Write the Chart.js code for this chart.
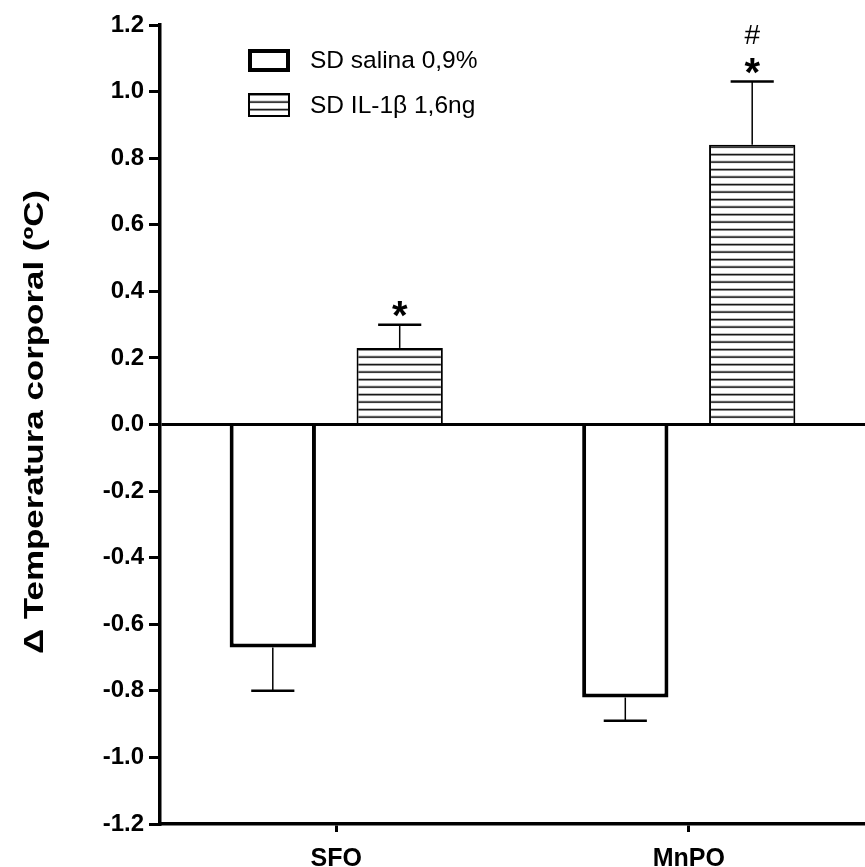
<!DOCTYPE html>
<html>
<head>
<meta charset="utf-8">
<script src="https://cdn.jsdelivr.net/npm/chart.js@4/dist/chart.umd.min.js"></script>
<style>
  html, body { margin: 0; padding: 0; background: #fff; overflow: hidden; }
</style>
</head>
<body>
<canvas id="barChart" width="865" height="867"></canvas>
<script>
const categories = ['SFO', 'MnPO'];
const seriesNames = ['SD salina 0,9%', 'SD IL-1\u03b2 1,6ng'];
const salinaValues = [-0.67, -0.82];
const salinaErrors = [0.13, 0.07];
const ilValues = [0.23, 0.84];
const ilErrors = [0.07, 0.19];
const ilMarks = ['*', '*'];
const ilMarksTop = ['', '#'];
const yTickValues = [-1.2, -1.0, -0.8, -0.6, -0.4, -0.2, 0.0, 0.2, 0.4, 0.6, 0.8, 1.0, 1.2];
const yTitle = '\u0394 Temperatura corporal (\u00baC)';

const FONT = '"Liberation Sans", Arial, Helvetica, sans-serif';

const ctx = document.getElementById('barChart').getContext('2d');

// horizontal stripes for the IL-1b bars
function makeStripes() {
    const c = document.createElement('canvas');
    c.width = 8;
    c.height = 15;
    const g = c.getContext('2d');
    g.fillStyle = '#fff';
    g.fillRect(0, 0, 8, 15);
    g.fillStyle = '#000';
    g.fillRect(0, 0, 8, 1.6);
    g.fillRect(0, 7.5, 8, 1.6);
    return ctx.createPattern(c, 'repeat');
}
const stripes = makeStripes();

const errors = [salinaErrors, ilErrors];

const stripeAlign = {
    id: 'stripeAlign',
    beforeDatasetsDraw(chart) {
        const zero = chart.scales.y.getPixelForValue(0);
        stripes.setTransform(new DOMMatrix().translate(0, zero - 0.8));
    }
};

const errorBars = {
    id: 'errorBars',
    afterDatasetsDraw(chart) {
        const c = chart.ctx;
        const y = chart.scales.y;
        c.save();
        c.strokeStyle = '#000';
        chart.data.datasets.forEach((ds, i) => {
            const meta = chart.getDatasetMeta(i);
            meta.data.forEach((bar, j) => {
                const v = ds.data[j];
                const end = y.getPixelForValue(v + Math.sign(v) * errors[i][j]);
                const half = bar.width / 4;
                c.lineWidth = 1.5;
                c.beginPath();
                c.moveTo(bar.x, bar.y);
                c.lineTo(bar.x, end);
                c.stroke();
                c.lineWidth = 2.5;
                c.beginPath();
                c.moveTo(bar.x - half, end);
                c.lineTo(bar.x + half, end);
                c.stroke();

                if (i === 1) {
                    c.fillStyle = '#000';
                    c.textAlign = 'center';
                    c.textBaseline = 'alphabetic';
                    if (ilMarks[j]) {
                        c.font = 'bold 40px ' + FONT;
                        const m = c.measureText(ilMarks[j]);
                        const cy = end - 16;
                        c.fillText(ilMarks[j], bar.x, cy + (m.actualBoundingBoxAscent - m.actualBoundingBoxDescent) / 2);
                    }
                    if (ilMarksTop[j]) {
                        c.font = '28px ' + FONT;
                        const m = c.measureText(ilMarksTop[j]);
                        const cy = end - 47;
                        c.fillText(ilMarksTop[j], bar.x, cy + (m.actualBoundingBoxAscent - m.actualBoundingBoxDescent) / 2);
                    }
                }
            });
        });
        c.restore();
    }
};

const legendBoxes = {
    id: 'legendBoxes',
    afterDraw(chart) {
        const c = chart.ctx;
        c.save();
        // saline box
        c.fillStyle = '#fff';
        c.fillRect(250, 51, 38, 19);
        c.strokeStyle = '#000';
        c.lineWidth = 4;
        c.strokeRect(250, 51, 38, 19);
        // IL box
        c.fillStyle = stripes;
        c.fillRect(249, 94, 40, 22);
        c.lineWidth = 2;
        c.strokeRect(249, 94, 40, 22);

        c.fillStyle = '#000';
        c.font = '24.5px ' + FONT;
        c.textAlign = 'left';
        c.textBaseline = 'middle';
        c.fillText(seriesNames[0], 310, 61);
        c.fillText(seriesNames[1], 310, 106);
        c.restore();
    }
};

const yTitlePlugin = {
    id: 'yTitle',
    afterDraw(chart) {
        const c = chart.ctx;
        c.save();
        c.font = 'bold 28px ' + FONT;
        const w = c.measureText(yTitle).width;
        c.translate(35, 422);
        c.rotate(-Math.PI / 2);
        c.scale(464 / w, 1);
        c.fillStyle = '#000';
        c.textAlign = 'center';
        c.textBaseline = 'middle';
        c.fillText(yTitle, 0, 0);
        c.restore();
    }
};

new Chart(ctx, {
    type: 'bar',
    data: {
        labels: categories,
        datasets: [{
            label: seriesNames[0],
            data: salinaValues,
            backgroundColor: '#fff',
            borderColor: '#000',
            borderWidth: 4,
            categoryPercentage: 0.72,
            barPercentage: 0.68
        }, {
            label: seriesNames[1],
            data: ilValues,
            backgroundColor: stripes,
            borderColor: '#000',
            borderWidth: 2,
            categoryPercentage: 0.72,
            barPercentage: 0.68
        }]
    },
    options: {
        responsive: false,
        animation: false,
        devicePixelRatio: 1,
        layout: {
            padding: { top: 25, right: 0, bottom: 0, left: 0 }
        },
        plugins: {
            legend: { display: false },
            tooltip: { enabled: false }
        },
        scales: {
            x: {
                offset: true,
                border: { color: '#000', width: 3.5 },
                grid: {
                    offset: false,
                    drawOnChartArea: false,
                    color: 'transparent',
                    tickColor: '#000',
                    tickLength: 8,
                    tickWidth: 3
                },
                ticks: {
                    color: '#000',
                    padding: 12,
                    font: { family: FONT, size: 25, weight: 'bold' }
                },
                afterFit(scale) {
                    scale.height = 43;
                }
            },
            y: {
                min: -1.2,
                max: 1.2,
                border: { color: '#000', width: 3.5 },
                grid: {
                    color: c => (c.tick && Math.abs(c.tick.value) < 1e-9) ? '#000' : 'transparent',
                    lineWidth: 3,
                    tickColor: '#000',
                    tickLength: 11,
                    tickWidth: 3
                },
                ticks: {
                    color: '#000',
                    padding: 5,
                    font: { family: FONT, size: 24, weight: 'bold' },
                    callback: v => (Math.abs(v) < 1e-9 ? 0 : v).toFixed(1)
                },
                afterBuildTicks(scale) {
                    scale.ticks = yTickValues.map(v => ({ value: v }));
                },
                afterFit(scale) {
                    scale.width = 160;
                }
            }
        }
    },
    plugins: [stripeAlign, errorBars, legendBoxes, yTitlePlugin]
});
</script>
</body>
</html>
